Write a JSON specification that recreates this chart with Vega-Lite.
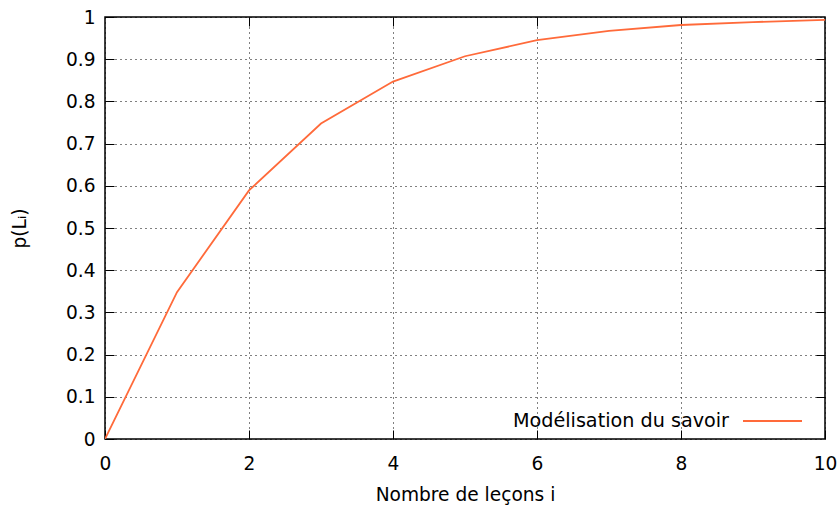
{
  "$schema": "https://vega.github.io/schema/vega-lite/v6.json",
  "autosize": {"type": "none"},
  "width": 720,
  "height": 422,
  "padding": {"left": 105, "top": 17, "right": 15, "bottom": 68},
  "background": "white",
  "config": {
    "font": "DejaVu Sans",
    "view": {"stroke": "black", "strokeWidth": 1.5},
    "axis": {
      "labelFont": "DejaVu Sans",
      "titleFont": "DejaVu Sans",
      "labelFontSize": 18.6,
      "titleFontSize": 18.6,
      "titleFontWeight": "normal",
      "labelColor": "black",
      "titleColor": "black",
      "domain": false,
      "tickColor": "black",
      "tickWidth": 1,
      "tickSize": -9,
      "gridColor": "black",
      "gridDash": [1, 4],
      "gridWidth": 1,
      "gridOpacity": 1
    }
  },
  "data": {
    "values": [
      {"i": 0, "p": 0.0, "serie": "Modélisation du savoir"},
      {"i": 1, "p": 0.348, "serie": "Modélisation du savoir"},
      {"i": 2, "p": 0.589, "serie": "Modélisation du savoir"},
      {"i": 3, "p": 0.7475, "serie": "Modélisation du savoir"},
      {"i": 4, "p": 0.847, "serie": "Modélisation du savoir"},
      {"i": 5, "p": 0.907, "serie": "Modélisation du savoir"},
      {"i": 6, "p": 0.945, "serie": "Modélisation du savoir"},
      {"i": 7, "p": 0.967, "serie": "Modélisation du savoir"},
      {"i": 8, "p": 0.981, "serie": "Modélisation du savoir"},
      {"i": 9, "p": 0.988, "serie": "Modélisation du savoir"},
      {"i": 10, "p": 0.993, "serie": "Modélisation du savoir"}
    ]
  },
  "layer": [
    {
      "mark": {"type": "line", "strokeWidth": 1.8, "clip": true},
      "encoding": {
        "x": {
          "field": "i", "type": "quantitative",
          "scale": {"domain": [0, 10], "nice": false, "zero": false},
          "axis": {"values": [0, 2, 4, 6, 8, 10], "title": "Nombre de leçons i", "labelPadding": 24, "titlePadding": 13, "labelFlush": false}
        },
        "y": {
          "field": "p", "type": "quantitative",
          "scale": {"domain": [0, 1], "nice": false},
          "axis": {"values": [0, 0.1, 0.2, 0.3, 0.4, 0.5, 0.6, 0.7, 0.8, 0.9, 1], "format": ".1~f", "title": "p(Lᵢ)", "labelPadding": 19, "titlePadding": 36, "labelFlush": false}
        },
        "color": {
          "field": "serie", "type": "nominal",
          "scale": {"range": ["#ff6a3a"]},
          "legend": {
            "title": null,
            "orient": "none",
            "legendX": 637,
            "legendY": 373.5,
            "symbolType": "stroke",
            "symbolSize": 3481,
            "symbolStrokeWidth": 1.8,
            "labelFontSize": 19.2,
            "labelFont": "DejaVu Sans",
            "labelColor": "black",
            "labelAlign": "right",
            "labelOffset": -74,
            "labelLimit": 0,
            "padding": 0
          }
        }
      }
    },
    {
      "mark": {"type": "line", "opacity": 0},
      "encoding": {
        "x": {
          "field": "i", "type": "quantitative",
          "scale": {"domain": [0, 10], "nice": false, "zero": false},
          "axis": {"orient": "top", "values": [2, 4, 6, 8], "labels": false, "title": null, "grid": false}
        },
        "y": {
          "field": "p", "type": "quantitative",
          "scale": {"domain": [0, 1], "nice": false},
          "axis": {"orient": "right", "values": [0.1, 0.2, 0.3, 0.4, 0.5, 0.6, 0.7, 0.8, 0.9], "labels": false, "title": null, "grid": false}
        }
      }
    }
  ],
  "resolve": {"scale": {"x": "independent", "y": "independent"}}
}
